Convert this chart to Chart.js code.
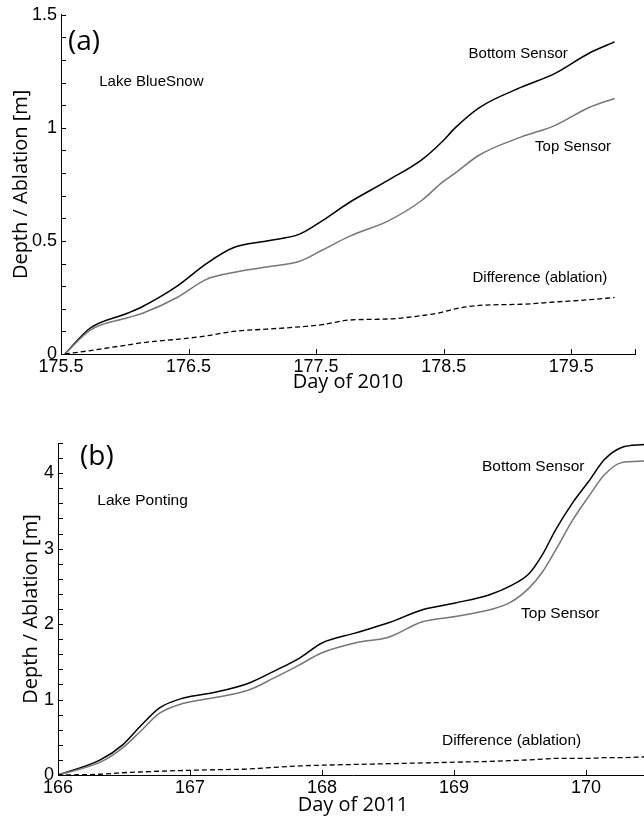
<!DOCTYPE html>
<html>
<head>
<meta charset="utf-8">
<script src="https://cdn.jsdelivr.net/npm/chart.js@4"></script>
<style>
  html, body { margin: 0; padding: 0; background: #fff; overflow: hidden; width: 644px; height: 821px; }
  canvas { position: absolute; left: 0; }
  #chartA { top: 0; }
  #chartB { top: 400px; }
</style>
</head>
<body>
<canvas id="chartA" width="644" height="400"></canvas>
<canvas id="chartB" width="650" height="421"></canvas>
<script>
// Panel (a) - Lake BlueSnow, 2010
const daysA = [175.53, 175.73, 176.02, 176.14, 176.41, 176.64, 176.85, 177.11, 177.37, 177.55,
               177.76, 178.07, 178.33, 178.49, 178.59, 178.78, 179.11, 179.37, 179.64, 179.84];
const bottomA = [0, 0.115, 0.18, 0.21, 0.30, 0.40, 0.47, 0.50, 0.53, 0.59,
                 0.67, 0.77, 0.86, 0.94, 1.00, 1.09, 1.18, 1.24, 1.33, 1.38];
const topA = [0, 0.106, 0.16, 0.18, 0.25, 0.33, 0.36, 0.385, 0.41, 0.46,
              0.52, 0.59, 0.68, 0.76, 0.80, 0.88, 0.96, 1.01, 1.09, 1.13];
const diffA = [0, 0.015, 0.04, 0.05, 0.065, 0.08, 0.10, 0.11, 0.12, 0.13,
               0.15, 0.155, 0.17, 0.185, 0.20, 0.215, 0.22, 0.23, 0.24, 0.25];
const tickDaysA = [175.5, 176.5, 177.5, 178.5, 179.5, 180];
const tickDaysLabelsA = ['175.5', '176.5', '177.5', '178.5', '179.5', ''];
const tickDepthA = [0, 0.1, 0.2, 0.3, 0.4, 0.5, 0.6, 0.7, 0.8, 0.9, 1, 1.1, 1.2, 1.3, 1.4, 1.5];
const tickDepthLabelsA = ['0', '', '', '', '', '0.5', '', '', '', '', '1', '', '', '', '', '1.5'];

// Panel (b) - Lake Ponting, 2011
const daysB = [166, 166.32, 166.49, 166.62, 166.77, 166.95, 167.2, 167.45, 167.63, 167.83,
               168, 168.25, 168.51, 168.76, 169.01, 169.27, 169.42, 169.57, 169.67, 169.77,
               169.9, 170.02, 170.14, 170.27, 170.44];
const bottomB = [0, 0.2, 0.40, 0.64, 0.89, 1.02, 1.10, 1.22, 1.37, 1.55,
                 1.75, 1.88, 2.02, 2.19, 2.28, 2.39, 2.50, 2.67, 2.92, 3.25,
                 3.61, 3.89, 4.18, 4.34, 4.38];
const topB = [0, 0.17, 0.36, 0.57, 0.82, 0.95, 1.03, 1.13, 1.28, 1.46,
              1.62, 1.75, 1.83, 2.03, 2.10, 2.19, 2.28, 2.48, 2.69, 2.98,
              3.38, 3.69, 3.98, 4.14, 4.16];
const diffB = [0, 0.01, 0.03, 0.04, 0.05, 0.06, 0.07, 0.08, 0.10, 0.12,
               0.13, 0.14, 0.15, 0.16, 0.17, 0.18, 0.19, 0.20, 0.21, 0.22,
               0.22, 0.22, 0.23, 0.23, 0.24];
const tickDaysB = [166, 167, 168, 169, 170];
const tickDaysLabelsB = ['166', '167', '168', '169', '170'];
const tickDepthB = [0, 0.2, 0.4, 0.6, 0.8, 1, 1.2, 1.4, 1.6, 1.8, 2, 2.2, 2.4, 2.6, 2.8,
                    3, 3.2, 3.4, 3.6, 3.8, 4, 4.2, 4.4];
const tickDepthLabelsB = ['0', '', '', '', '', '1', '', '', '', '', '2', '', '', '', '',
                          '3', '', '', '', '', '4', '', ''];

Chart.defaults.color = '#000';
Chart.defaults.font.family = '"Liberation Sans", Arial, sans-serif';

// inward tick marks (matlab style) + text labels placed in data units
const marks = {
  id: 'marks',
  afterDatasetsDraw(chart, args, opts) {
    const ctx = chart.ctx;
    const xs = chart.scales.x;
    const ys = chart.scales.y;
    const area = chart.chartArea;
    ctx.save();
    ctx.setLineDash([]);
    ctx.strokeStyle = '#000';
    ctx.lineWidth = 1;
    ctx.beginPath();
    xs.ticks.forEach(t => {
      const px = Math.round(xs.getPixelForValue(t.value)) + 0.5;
      ctx.moveTo(px, area.bottom);
      ctx.lineTo(px, area.bottom - 5);
    });
    ys.ticks.forEach(t => {
      const py = Math.round(ys.getPixelForValue(t.value)) + 0.5;
      ctx.moveTo(area.left, py);
      ctx.lineTo(area.left + 5, py);
    });
    ctx.stroke();

    ctx.fillStyle = '#000';
    ctx.textAlign = 'left';
    ctx.textBaseline = 'middle';
    (opts.items || []).forEach(n => {
      ctx.font = n.font;
      ctx.fillText(n.text, xs.getPixelForValue(n.x), ys.getPixelForValue(n.y));
    });
    ctx.restore();
  }
};

function makePanel(id, p) {
  const ds = (vals, color, dash, width) => ({
    data: p.days.map((d, i) => ({ x: d, y: vals[i] })),
    borderColor: color,
    borderWidth: width,
    borderDash: dash,
    pointRadius: 0,
    cubicInterpolationMode: 'monotone',
    fill: false
  });
  return new Chart(document.getElementById(id), {
    type: 'line',
    data: {
      datasets: [
        ds(p.diff, '#000', [5, 3], 1.3),
        ds(p.top, '#777', [], 1.5),
        ds(p.bottom, '#000', [], 1.5)
      ]
    },
    options: {
      responsive: false,
      animation: false,
      layout: { padding: p.padding },
      plugins: {
        legend: { display: false },
        tooltip: { enabled: false },
        marks: { items: p.notes }
      },
      scales: {
        x: {
          type: 'linear',
          min: p.xMin,
          max: p.xMax,
          grid: { display: false, drawTicks: false },
          border: { color: '#000', width: 1 },
          afterBuildTicks: s => { s.ticks = p.xTicks.map(v => ({ value: v })); },
          afterFit: s => { s.height = 46; },
          ticks: {
            autoSkip: false,
            maxRotation: 0,
            padding: 2,
            font: { size: 18 },
            callback: (v, i) => p.xLabels[i]
          },
          title: {
            display: true,
            text: p.xTitle,
            font: { family: '"Open Sans", sans-serif', size: 20 },
            padding: { top: 0, bottom: p.xTitlePad }
          }
        },
        y: {
          min: 0,
          max: p.yMax,
          grid: { display: false, drawTicks: false },
          border: { color: '#000', width: 1 },
          afterBuildTicks: s => { s.ticks = p.yTicks.map(v => ({ value: v })); },
          afterFit: s => { s.width = p.yWidth; },
          ticks: {
            autoSkip: false,
            padding: 4,
            font: { size: 18 },
            callback: (v, i) => p.yLabels[i]
          },
          title: {
            display: true,
            text: 'Depth / Ablation [m]',
            font: { family: '"Open Sans", sans-serif', size: 20 },
            padding: { top: p.yTitlePad, bottom: 0 }
          }
        }
      }
    },
    plugins: [marks]
  });
}

makePanel('chartA', {
  days: daysA, bottom: bottomA, top: topA, diff: diffA,
  xMin: 175.5, xMax: 180, yMax: 1.5,
  xTicks: tickDaysA, xLabels: tickDaysLabelsA,
  yTicks: tickDepthA, yLabels: tickDepthLabelsA,
  xTitle: 'Day of 2010', xTitlePad: 6, yTitlePad: 9, yWidth: 61,
  padding: { left: 0, top: 14, right: 9, bottom: 0 },
  notes: [
    { text: '(a)', x: 175.555, y: 1.381, font: '28px "Open Sans", sans-serif' },
    { text: 'Lake BlueSnow', x: 175.80, y: 1.204, font: '15px "Liberation Sans", Arial, sans-serif' },
    { text: 'Bottom Sensor', x: 178.695, y: 1.328, font: '15px "Liberation Sans", Arial, sans-serif' },
    { text: 'Top Sensor', x: 179.217, y: 0.918, font: '15px "Liberation Sans", Arial, sans-serif' },
    { text: 'Difference (ablation)', x: 178.726, y: 0.335, font: '15px "Liberation Sans", Arial, sans-serif' }
  ]
});

makePanel('chartB', {
  days: daysB, bottom: bottomB, top: topB, diff: diffB,
  xMin: 166, xMax: 170.47, yMax: 4.4,
  xTicks: tickDaysB, xLabels: tickDaysLabelsB,
  yTicks: tickDepthB, yLabels: tickDepthLabelsB,
  xTitle: 'Day of 2011', xTitlePad: 4, yTitlePad: 19, yWidth: 58,
  padding: { left: 0, top: 43, right: 2, bottom: 0 },
  notes: [
    { text: '(b)', x: 166.167, y: 4.218, font: '28px "Open Sans", sans-serif' },
    { text: 'Lake Ponting', x: 166.298, y: 3.634, font: '15.5px "Liberation Sans", Arial, sans-serif' },
    { text: 'Bottom Sensor', x: 169.212, y: 4.085, font: '15.5px "Liberation Sans", Arial, sans-serif' },
    { text: 'Top Sensor', x: 169.508, y: 2.135, font: '15.5px "Liberation Sans", Arial, sans-serif' },
    { text: 'Difference (ablation)', x: 168.909, y: 0.451, font: '15.5px "Liberation Sans", Arial, sans-serif' }
  ]
});
</script>
</body>
</html>
